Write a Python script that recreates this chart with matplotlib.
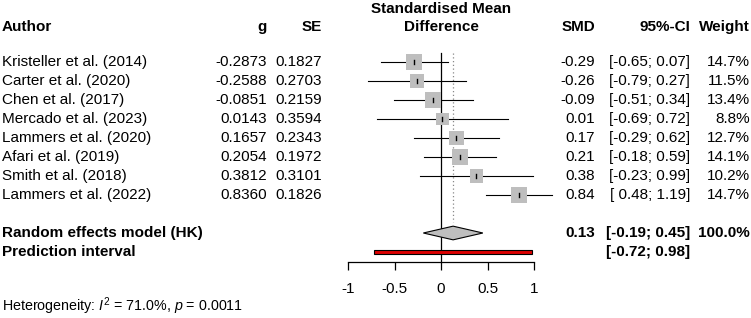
import numpy as np
import matplotlib
matplotlib.use('Agg')
import matplotlib.pyplot as plt
from matplotlib.patches import Polygon, Rectangle
import matplotlib.transforms as mtransforms

#------------------------------------------------------------------------------
# data
authors = ['Kristeller et al. (2014)', 'Carter et al. (2020)', 'Chen et al. (2017)',
           'Mercado et al. (2023)', 'Lammers et al. (2020)', 'Afari et al. (2019)',
           'Smith et al. (2018)', 'Lammers et al. (2022)']
g_vals = ['-0.2873', '-0.2588', '-0.0851', '0.0143', '0.1657', '0.2054', '0.3812', '0.8360']
se_vals = ['0.1827', '0.2703', '0.2159', '0.3594', '0.2343', '0.1972', '0.3101', '0.1826']
smd = [-0.2873, -0.2588, -0.0851, 0.0143, 0.1657, 0.2054, 0.3812, 0.8360]
ci_lo = [-0.65, -0.79, -0.51, -0.69, -0.29, -0.18, -0.23, 0.48]
ci_hi = [0.07, 0.27, 0.34, 0.72, 0.62, 0.59, 0.99, 1.19]
weight = [14.7, 11.5, 13.4, 8.8, 12.7, 14.1, 10.2, 14.7]

pooled = 0.13
pooled_lo = -0.19
pooled_hi = 0.45
pi_lo = -0.72
pi_hi = 0.98
i2 = 71.0
p_het = '0.0011'
xticks = [-1, -0.5, 0, 0.5, 1]

#------------------------------------------------------------------------------
plt.rcParams['font.family'] = ['Liberation Sans', 'DejaVu Sans']
plt.rcParams['mathtext.fontset'] = 'custom'
plt.rcParams['mathtext.rm'] = 'Liberation Sans'
plt.rcParams['mathtext.it'] = 'Liberation Sans:italic'
FS = 11

W, H = 751, 318
fig = plt.figure(figsize=(W / 100, H / 100), dpi=100)

row0 = 62.0   # pixel of first study row
dy = 19.0     # pixel per row
ax_bottom_px = 261.5
left_px, right_px = 348.0, 534.0
ax = fig.add_axes([left_px / W, 1 - ax_bottom_px / H, (right_px - left_px) / W, ax_bottom_px / H])
ax.set_xlim(-1, 1)
ax.set_ylim((ax_bottom_px - row0) / dy, -row0 / dy)
for s in ['top', 'right', 'left']:
    ax.spines[s].set_visible(False)
ax.spines['bottom'].set_linewidth(0.9)
ax.set_yticks([])
ax.set_xticks(xticks)
ax.set_xticklabels(['%g' % t for t in xticks], fontsize=FS)
ax.tick_params(axis='x', length=5.5, width=0.9, pad=9)
ax.patch.set_visible(False)

n = len(authors)
rows = np.arange(n)
row_re = n + 1
row_pi = n + 2

# reference lines
ax.plot([0, 0], [-0.5, ax.get_ylim()[0]], color='black', lw=0.9, clip_on=False)
ax.plot([pooled, pooled], [-0.5, row_re - 0.6], color='#888888', lw=0.9, ls=(0, (1, 2)), clip_on=False)

# study squares + CIs
wmax = max(weight)
for i in range(n):
    ax.plot([ci_lo[i], ci_hi[i]], [rows[i], rows[i]], color='black', lw=0.8, clip_on=False, zorder=2)
    side = 0.84 * np.sqrt(weight[i] / wmax)   # in row units
    half_x = side * dy / 93.0 / 2
    ax.add_patch(Rectangle((smd[i] - half_x, rows[i] - side / 2), 2 * half_x, side,
                           facecolor='#bebebe', edgecolor='none', clip_on=False, zorder=3))
    ax.plot([smd[i], smd[i]], [rows[i] - 0.13, rows[i] + 0.13], color='black', lw=1.0,
            clip_on=False, zorder=4)

# diamond
ax.add_patch(Polygon([[pooled_lo, row_re], [pooled, row_re - 0.36], [pooled_hi, row_re],
                      [pooled, row_re + 0.36]], closed=True, facecolor='#bebebe',
                     edgecolor='black', lw=0.8, clip_on=False, zorder=3))

# prediction interval
ax.add_patch(Rectangle((pi_lo, row_pi - 0.1), pi_hi - pi_lo, 0.2, facecolor='#dd0000',
                       edgecolor='black', lw=0.8, clip_on=False, zorder=3))

#------------------------------------------------------------------------------
# text columns (x in figure fraction, y in rows)
tr = mtransforms.blended_transform_factory(fig.transFigure, ax.transData)

def col(px):
    return px / W

hdr_row = -1.84
ax.text(col(2), hdr_row, 'Author', transform=tr, ha='left', va='center', fontsize=FS, fontweight='bold')
ax.text(col(267), hdr_row, 'g', transform=tr, ha='right', va='center', fontsize=FS, fontweight='bold')
ax.text(col(322), hdr_row, 'SE', transform=tr, ha='right', va='center', fontsize=FS, fontweight='bold')
ax.text(col(441), hdr_row - 0.95, 'Standardised Mean', transform=tr, ha='center', va='center',
        fontsize=FS, fontweight='bold')
ax.text(col(441), hdr_row, 'Difference', transform=tr, ha='center', va='center', fontsize=FS, fontweight='bold')
ax.text(col(595), hdr_row, 'SMD', transform=tr, ha='right', va='center', fontsize=FS, fontweight='bold')
ax.text(col(690), hdr_row, '95%-CI', transform=tr, ha='right', va='center', fontsize=FS, fontweight='bold')
ax.text(col(750), hdr_row, 'Weight', transform=tr, ha='right', va='center', fontsize=FS, fontweight='bold')

def fmt_ci(lo, hi):
    a = '%.2f' % lo
    b = '%.2f' % hi
    if lo >= 0:
        a = ' ' + a
    return '[%s; %s]' % (a, b)

for i in range(n):
    r = rows[i]
    ax.text(col(2), r, authors[i], transform=tr, ha='left', va='center', fontsize=FS)
    ax.text(col(267), r, g_vals[i], transform=tr, ha='right', va='center', fontsize=FS)
    ax.text(col(322), r, se_vals[i], transform=tr, ha='right', va='center', fontsize=FS)
    ax.text(col(595), r, '%.2f' % smd[i], transform=tr, ha='right', va='center', fontsize=FS)
    ax.text(col(690), r, fmt_ci(ci_lo[i], ci_hi[i]), transform=tr, ha='right', va='center', fontsize=FS)
    ax.text(col(750), r, '%.1f%%' % weight[i], transform=tr, ha='right', va='center', fontsize=FS)

ax.text(col(2), row_re, 'Random effects model (HK)', transform=tr, ha='left', va='center',
        fontsize=FS, fontweight='bold')
ax.text(col(595), row_re, '%.2f' % pooled, transform=tr, ha='right', va='center', fontsize=FS, fontweight='bold')
ax.text(col(690), row_re, fmt_ci(pooled_lo, pooled_hi), transform=tr, ha='right', va='center',
        fontsize=FS, fontweight='bold')
ax.text(col(750), row_re, '100.0%', transform=tr, ha='right', va='center', fontsize=FS, fontweight='bold')
ax.text(col(2), row_pi, 'Prediction interval', transform=tr, ha='left', va='center',
        fontsize=FS, fontweight='bold')
ax.text(col(690), row_pi, fmt_ci(pi_lo, pi_hi), transform=tr, ha='right', va='center',
        fontsize=FS, fontweight='bold')

ax.text(col(2), (306 - row0) / dy, 'Heterogeneity: $I^2$ = %.1f%%, $p$ = %s' % (i2, p_het),
        transform=tr, ha='left', va='center', fontsize=10.3)

fig.savefig('out.png', dpi=100)
